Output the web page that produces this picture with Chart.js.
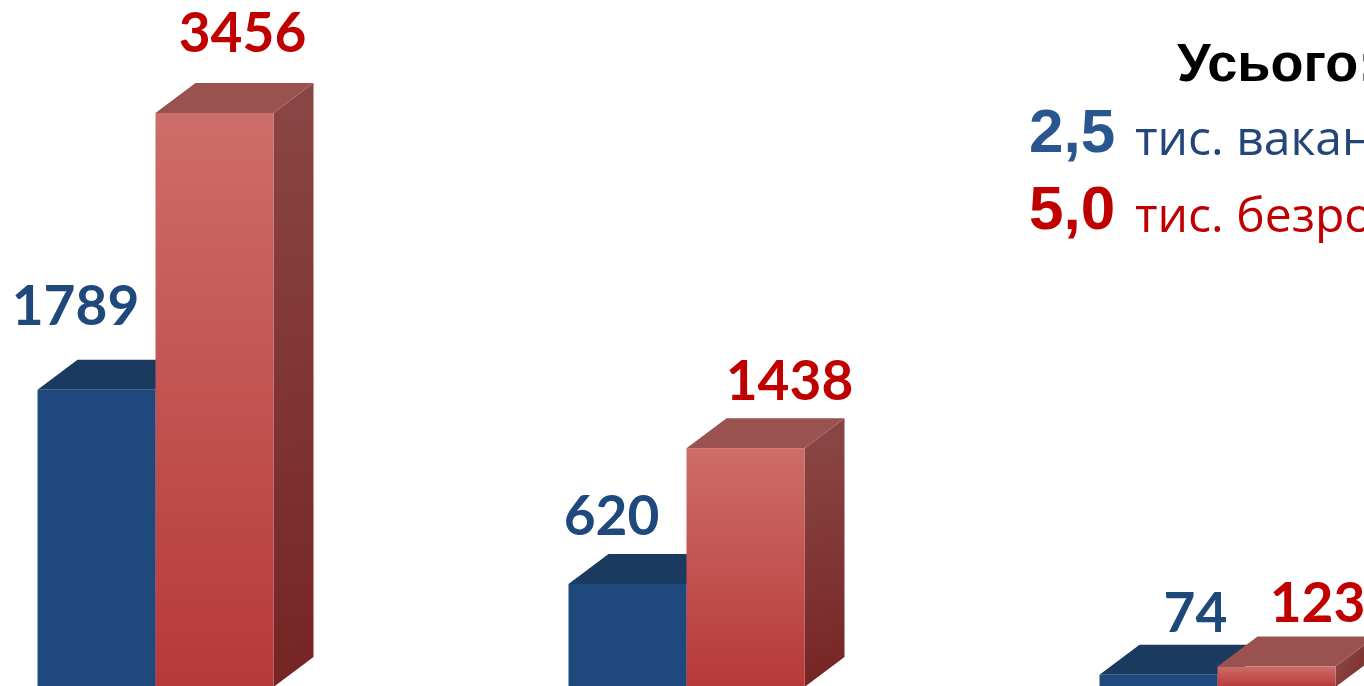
<!DOCTYPE html>
<html lang="uk">
<head>
<meta charset="utf-8">
<title>Вакансії та безробітні</title>
<script src="https://cdn.jsdelivr.net/npm/chart.js@4/dist/chart.umd.min.js"></script>
<style>
    html, body { margin: 0; padding: 0; background: #fff; }
    body { width: 1364px; height: 686px; overflow: hidden; position: relative; }
    #c { position: absolute; left: -110px; top: 0; }
    .note { position: absolute; white-space: nowrap; line-height: 1; }
    .head { font: bold 54px "Liberation Sans", Arial, sans-serif; color: #000; }
    .big  { font: bold 62px "Liberation Sans", Arial, sans-serif; }
    .unit { font: 48px "Open Sans", "Noto Sans", sans-serif; }
</style>
</head>
<body>
<canvas id="c" width="1593" height="700"></canvas>

<div class="note head" style="left:1177px; top:31px;">Усього:</div>
<div class="note big"  style="left:1029px; top:95px; color:#2a5690;">2,5</div>
<div class="note unit" style="left:1135px; top:104px; color:#23457a;">тис. вакансій</div>
<div class="note big"  style="left:1029px; top:172px; color:#c00000;">5,0</div>
<div class="note unit" style="left:1135px; top:181px; color:#c00000;">тис. безробітних</div>

<script>
/* ================= DATA ================= */
const categories = ["1", "2", "3"];
const vacancies  = [1789, 620, 74];     // blue bars
const unemployed = [3456, 1438, 123];   // red bars
const yMax = 4136;

/* ================= LOOK ================= */
// depth of the fake 3D box (px)
const depth = { dx: 40, dy: 30 };

// label nudges, [x shift from top-face centre, gap above back edge]
const blueLabelShift = [[-41, 35], [-36, 19], [17, 13]];
const redLabelShift  = [[8, 31], [24, 18], [21, 15]];

const looks = [
    { front: ["#1f497d", "#1f497d"], top: "#1b3a60", side: ["#17365d", "#122b4b"], label: "#1f497d", shift: blueLabelShift },
    { front: ["#cd6d69", "#b7393a"], top: "#9a5250", side: ["#894543", "#762424"], label: "#c00000", shift: redLabelShift }
];

/* ================= 3D BAR PLUGIN ================= */
const bar3d = {
    id: "bar3d",
    afterDatasetsDraw(chart) {
        const ctx = chart.ctx;
        const { dx, dy } = depth;

        chart.data.datasets.forEach((ds, di) => {
            const look = looks[di];
            chart.getDatasetMeta(di).data.forEach((bar, i) => {
                const { x, y, base, width } = bar.getProps(["x", "y", "base", "width"], true);
                const l = x - width / 2, r = x + width / 2;

                ctx.save();

                // side face
                let g = ctx.createLinearGradient(r, y, r + dx, base);
                g.addColorStop(0, look.side[0]);
                g.addColorStop(1, look.side[1]);
                ctx.fillStyle = g;
                ctx.beginPath();
                ctx.moveTo(r, y);
                ctx.lineTo(r + dx, y - dy);
                ctx.lineTo(r + dx, base - dy);
                ctx.lineTo(r, base);
                ctx.closePath();
                ctx.fill();

                // top face
                ctx.fillStyle = look.top;
                ctx.beginPath();
                ctx.moveTo(l, y);
                ctx.lineTo(l + dx, y - dy);
                ctx.lineTo(r + dx, y - dy);
                ctx.lineTo(r, y);
                ctx.closePath();
                ctx.fill();

                // front face
                g = ctx.createLinearGradient(0, y, 0, base);
                g.addColorStop(0, look.front[0]);
                g.addColorStop(1, look.front[1]);
                ctx.fillStyle = g;
                ctx.fillRect(l, y, width, base - y);

                // value label
                const s = look.shift[i];
                ctx.fillStyle = look.label;
                ctx.font = "bold 55px Lato, 'Open Sans', sans-serif";
                ctx.textAlign = "center";
                ctx.textBaseline = "alphabetic";
                ctx.fillText(String(ds.data[i]), x + dx / 2 + s[0], y - dy - s[1]);

                ctx.restore();
            });
        });
    }
};

/* ================= CHART ================= */
new Chart(document.getElementById("c"), {
    type: "bar",
    data: {
        labels: categories,
        datasets: [
            { label: "Вакансії", data: vacancies, backgroundColor: "rgba(0,0,0,0)" },
            { label: "Безробітні", data: unemployed, backgroundColor: "rgba(0,0,0,0)" }
        ]
    },
    options: {
        responsive: false,
        animation: false,
        devicePixelRatio: 1,
        layout: { padding: { top: 0, bottom: 13, left: 0, right: 0 } },
        datasets: { bar: { categoryPercentage: 236 / 531, barPercentage: 1 } },
        plugins: { legend: { display: false }, tooltip: { enabled: false } },
        scales: {
            x: { display: false, offset: true },
            y: { display: false, min: 0, max: yMax }
        }
    },
    plugins: [bar3d]
});
</script>
</body>
</html>
